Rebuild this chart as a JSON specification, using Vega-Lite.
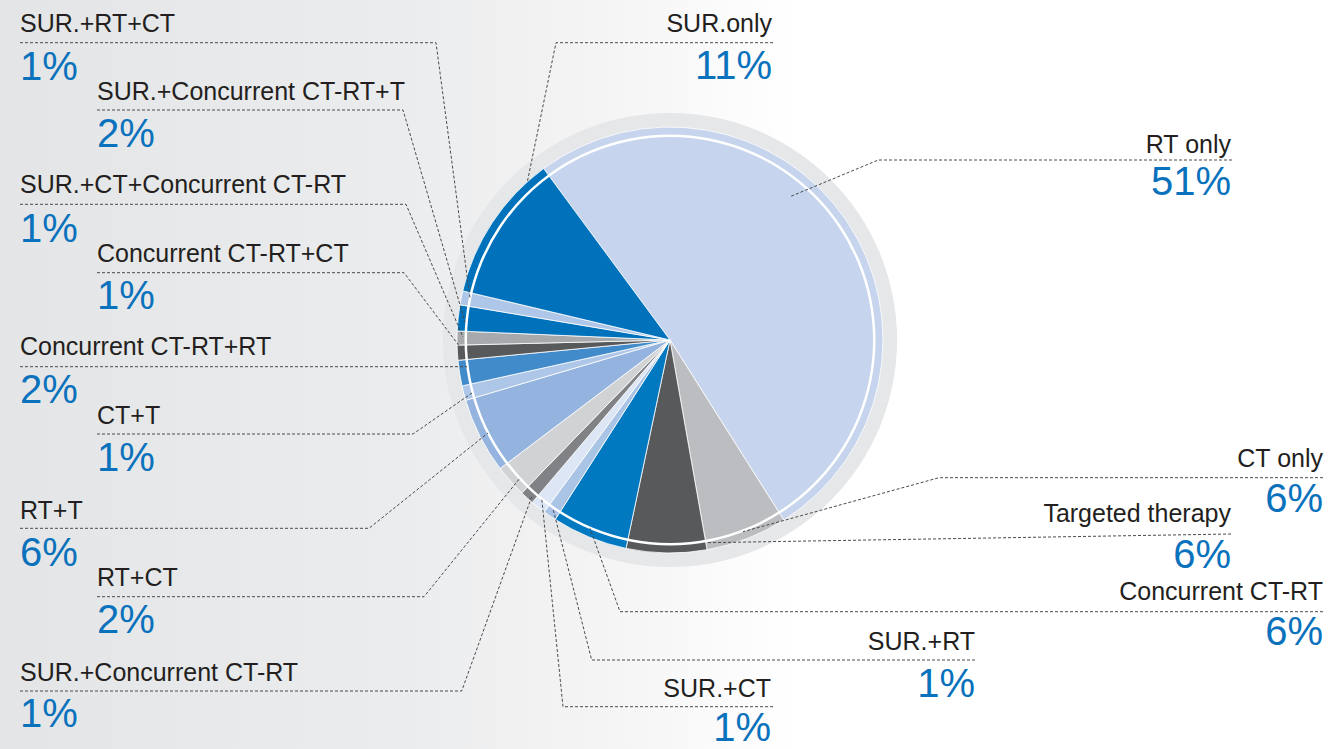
{
  "$schema": "https://vega.github.io/schema/vega-lite/v6.json",
  "width": 1330,
  "height": 749,
  "autosize": {"type": "none"},
  "padding": 0,
  "background": "#ffffff",
  "config": {"view": {"stroke": null}},
  "datasets": {
    "slices": [
      {"name": "RT only", "value": 51.2, "ord": 1, "pct": "51%", "side": "R", "tx": 561, "ny": 186.7, "py": 145},
      {"name": "CT only", "value": 6.2, "ord": 2, "pct": "6%", "side": "R", "tx": 653, "ny": -126.7, "py": -171.7},
      {"name": "Targeted therapy", "value": 6.1, "ord": 3, "pct": "6%", "side": "R", "tx": 561, "ny": -181.7, "py": -228.3},
      {"name": "Concurrent CT-RT", "value": 5.75, "ord": 4, "pct": "6%", "side": "R", "tx": 653, "ny": -260, "py": -305},
      {"name": "SUR.+RT", "value": 1.0, "ord": 5, "pct": "1%", "side": "R", "tx": 305, "ny": -310, "py": -356.7},
      {"name": "SUR.+CT", "value": 1.14, "ord": 6, "pct": "1%", "side": "R", "tx": 101, "ny": -356.7, "py": -400.5},
      {"name": "SUR.+Concurrent CT-RT", "value": 1.06, "ord": 7, "pct": "1%", "side": "L", "tx": -650, "ny": -341, "py": -387.3},
      {"name": "RT+CT", "value": 2.44, "ord": 8, "pct": "2%", "side": "L", "tx": -573, "ny": -245.7, "py": -293.3},
      {"name": "RT+T", "value": 5.75, "ord": 9, "pct": "6%", "side": "L", "tx": -650, "ny": -179, "py": -225.7},
      {"name": "CT+T", "value": 1.11, "ord": 10, "pct": "1%", "side": "L", "tx": -573, "ny": -84, "py": -131},
      {"name": "Concurrent CT-RT+RT", "value": 1.94, "ord": 11, "pct": "2%", "side": "L", "tx": -650, "ny": -15, "py": -63},
      {"name": "Concurrent CT-RT+CT", "value": 1.14, "ord": 12, "pct": "1%", "side": "L", "tx": -573, "ny": 78.3, "py": 30.7},
      {"name": "SUR.+CT+Concurrent CT-RT", "value": 1.06, "ord": 13, "pct": "1%", "side": "L", "tx": -650, "ny": 147, "py": 98.3},
      {"name": "SUR.+Concurrent CT-RT+T", "value": 1.97, "ord": 14, "pct": "2%", "side": "L", "tx": -573, "ny": 240, "py": 193.3},
      {"name": "SUR.+RT+CT", "value": 1.06, "ord": 15, "pct": "1%", "side": "L", "tx": -650, "ny": 308, "py": 260},
      {"name": "SUR.only", "value": 11.2, "ord": 16, "pct": "11%", "side": "R", "tx": 102, "ny": 308, "py": 261}
    ],
    "leaders": [
      {"name": "SUR.+RT+CT", "i": 0, "lx": -650, "ly": 297.3},
      {"name": "SUR.+RT+CT", "i": 1, "lx": -234, "ly": 297.3},
      {"name": "SUR.+RT+CT", "i": 2, "lx": -200, "ly": 42},
      {"name": "SUR.+Concurrent CT-RT+T", "i": 0, "lx": -573, "ly": 230},
      {"name": "SUR.+Concurrent CT-RT+T", "i": 1, "lx": -267, "ly": 230},
      {"name": "SUR.+Concurrent CT-RT+T", "i": 2, "lx": -205, "ly": 18},
      {"name": "SUR.+CT+Concurrent CT-RT", "i": 0, "lx": -650, "ly": 135.7},
      {"name": "SUR.+CT+Concurrent CT-RT", "i": 1, "lx": -264, "ly": 135.7},
      {"name": "SUR.+CT+Concurrent CT-RT", "i": 2, "lx": -207, "ly": 3},
      {"name": "Concurrent CT-RT+CT", "i": 0, "lx": -573, "ly": 67.3},
      {"name": "Concurrent CT-RT+CT", "i": 1, "lx": -266, "ly": 67.3},
      {"name": "Concurrent CT-RT+CT", "i": 2, "lx": -210, "ly": -7},
      {"name": "Concurrent CT-RT+RT", "i": 0, "lx": -650, "ly": -26.7},
      {"name": "Concurrent CT-RT+RT", "i": 1, "lx": -203, "ly": -26.7},
      {"name": "CT+T", "i": 0, "lx": -573, "ly": -94},
      {"name": "CT+T", "i": 1, "lx": -257, "ly": -94},
      {"name": "CT+T", "i": 2, "lx": -198, "ly": -53},
      {"name": "RT+T", "i": 0, "lx": -650, "ly": -188.3},
      {"name": "RT+T", "i": 1, "lx": -301, "ly": -188.3},
      {"name": "RT+T", "i": 2, "lx": -182, "ly": -93},
      {"name": "RT+CT", "i": 0, "lx": -573, "ly": -256.7},
      {"name": "RT+CT", "i": 1, "lx": -246, "ly": -256.7},
      {"name": "RT+CT", "i": 2, "lx": -150, "ly": -138},
      {"name": "SUR.+Concurrent CT-RT", "i": 0, "lx": -650, "ly": -351},
      {"name": "SUR.+Concurrent CT-RT", "i": 1, "lx": -208.3, "ly": -351},
      {"name": "SUR.+Concurrent CT-RT", "i": 2, "lx": -138.3, "ly": -156.7},
      {"name": "SUR.only", "i": 0, "lx": 103, "ly": 297.3},
      {"name": "SUR.only", "i": 1, "lx": -114, "ly": 297.3},
      {"name": "SUR.only", "i": 2, "lx": -142.7, "ly": 158},
      {"name": "RT only", "i": 0, "lx": 562, "ly": 180},
      {"name": "RT only", "i": 1, "lx": 208.3, "ly": 180},
      {"name": "RT only", "i": 2, "lx": 120, "ly": 143.3},
      {"name": "CT only", "i": 0, "lx": 653, "ly": -137.7},
      {"name": "CT only", "i": 1, "lx": 269, "ly": -137.7},
      {"name": "CT only", "i": 2, "lx": 73, "ly": -191.7},
      {"name": "Targeted therapy", "i": 0, "lx": 561, "ly": -194},
      {"name": "Targeted therapy", "i": 1, "lx": 36.7, "ly": -202.7},
      {"name": "Concurrent CT-RT", "i": 0, "lx": 653, "ly": -271.7},
      {"name": "Concurrent CT-RT", "i": 1, "lx": -50, "ly": -271.7},
      {"name": "Concurrent CT-RT", "i": 2, "lx": -80, "ly": -188.3},
      {"name": "SUR.+RT", "i": 0, "lx": 305, "ly": -320},
      {"name": "SUR.+RT", "i": 1, "lx": -78.3, "ly": -320},
      {"name": "SUR.+RT", "i": 2, "lx": -116.7, "ly": -170},
      {"name": "SUR.+CT", "i": 0, "lx": 103, "ly": -366.7},
      {"name": "SUR.+CT", "i": 1, "lx": -107, "ly": -366.7},
      {"name": "SUR.+CT", "i": 2, "lx": -128.3, "ly": -158.3}
    ]
  },
  "layer": [
    {
      "data": {"values": [{}]},
      "mark": {"type": "rect", "fill": {"gradient": "linear", "x1": 0, "y1": 0, "x2": 1, "y2": 0, "stops": [{"offset": 0, "color": "#e4e5e6"}, {"offset": 0.3, "color": "#ebeced"}, {"offset": 0.45, "color": "#f4f4f5"}, {"offset": 0.6, "color": "#ffffff"}, {"offset": 1, "color": "#ffffff"}]}},
      "encoding": {
        "x": {"datum": -670, "type": "quantitative", "scale": {"domain": [-670, 660], "nice": false, "zero": false}, "axis": null},
        "x2": {"datum": 660},
        "y": {"datum": -409, "type": "quantitative", "scale": {"domain": [-409, 340], "nice": false, "zero": false}, "axis": null},
        "y2": {"datum": 340}
      }
    },
    {
      "data": {"values": [{}]},
      "mark": {"type": "arc", "outerRadius": 227, "innerRadius": 0, "theta": 0, "theta2": 6.2832, "fill": "#e6e7e8"},
      "encoding": {
        "x": {"datum": 0, "type": "quantitative", "scale": {"domain": [-670, 660], "nice": false, "zero": false}, "axis": null},
        "y": {"datum": 0, "type": "quantitative", "scale": {"domain": [-409, 340], "nice": false, "zero": false}, "axis": null}
      }
    },
    {
      "data": {"name": "slices"},
      "mark": {"type": "arc", "outerRadius": 213, "stroke": "#ffffff", "strokeWidth": 0.8},
      "encoding": {
        "x": {"datum": 0, "type": "quantitative", "scale": {"domain": [-670, 660], "nice": false, "zero": false}, "axis": null},
        "y": {"datum": 0, "type": "quantitative", "scale": {"domain": [-409, 340], "nice": false, "zero": false}, "axis": null},
        "theta": {"field": "value", "type": "quantitative", "stack": true, "scale": {"range": [-0.6353, 5.6479]}},
        "order": {"field": "ord", "type": "quantitative"},
        "color": {
          "field": "name", "type": "nominal", "legend": null,
          "scale": {
            "domain": ["RT only", "CT only", "Targeted therapy", "Concurrent CT-RT", "SUR.+RT", "SUR.+CT", "SUR.+Concurrent CT-RT", "RT+CT", "RT+T", "CT+T", "Concurrent CT-RT+RT", "Concurrent CT-RT+CT", "SUR.+CT+Concurrent CT-RT", "SUR.+Concurrent CT-RT+T", "SUR.+RT+CT", "SUR.only"],
            "range": ["#c6d5ed", "#bcbdc0", "#58595b", "#0079c1", "#aac4e6", "#dde6f5", "#808285", "#d1d2d4", "#94b4df", "#aec6e8", "#428bca", "#58595b", "#a7a9ac", "#0071bb", "#aec6e8", "#0071bb"]
          }
        }
      }
    },
    {
      "data": {"values": [{}]},
      "mark": {"type": "arc", "outerRadius": 205.5, "innerRadius": 203, "theta": 0, "theta2": 6.2832, "fill": "#ffffff"},
      "encoding": {
        "x": {"datum": 0, "type": "quantitative", "scale": {"domain": [-670, 660], "nice": false, "zero": false}, "axis": null},
        "y": {"datum": 0, "type": "quantitative", "scale": {"domain": [-409, 340], "nice": false, "zero": false}, "axis": null}
      }
    },
    {
      "data": {"name": "leaders"},
      "mark": {"type": "line", "color": "#4a4a4c", "strokeWidth": 1, "strokeDash": [3, 2]},
      "encoding": {
        "x": {"field": "lx", "type": "quantitative", "scale": {"domain": [-670, 660], "nice": false, "zero": false}, "axis": null},
        "y": {"field": "ly", "type": "quantitative", "scale": {"domain": [-409, 340], "nice": false, "zero": false}, "axis": null},
        "detail": {"field": "name"},
        "order": {"field": "i", "type": "quantitative"}
      }
    },
    {
      "data": {"name": "slices"},
      "transform": [{"filter": "datum.side === 'L'"}],
      "mark": {"type": "text", "align": "left", "baseline": "alphabetic", "font": "Liberation Sans", "fontSize": 25, "color": "#231f20"},
      "encoding": {
        "x": {"field": "tx", "type": "quantitative", "scale": {"domain": [-670, 660], "nice": false, "zero": false}, "axis": null},
        "y": {"field": "ny", "type": "quantitative", "scale": {"domain": [-409, 340], "nice": false, "zero": false}, "axis": null},
        "text": {"field": "name"}
      }
    },
    {
      "data": {"name": "slices"},
      "transform": [{"filter": "datum.side === 'R'"}],
      "mark": {"type": "text", "align": "right", "baseline": "alphabetic", "font": "Liberation Sans", "fontSize": 25, "color": "#231f20"},
      "encoding": {
        "x": {"field": "tx", "type": "quantitative", "scale": {"domain": [-670, 660], "nice": false, "zero": false}, "axis": null},
        "y": {"field": "ny", "type": "quantitative", "scale": {"domain": [-409, 340], "nice": false, "zero": false}, "axis": null},
        "text": {"field": "name"}
      }
    },
    {
      "data": {"name": "slices"},
      "transform": [{"filter": "datum.side === 'L'"}],
      "mark": {"type": "text", "align": "left", "baseline": "alphabetic", "font": "Liberation Sans", "fontSize": 40, "color": "#0a72bc"},
      "encoding": {
        "x": {"field": "tx", "type": "quantitative", "scale": {"domain": [-670, 660], "nice": false, "zero": false}, "axis": null},
        "y": {"field": "py", "type": "quantitative", "scale": {"domain": [-409, 340], "nice": false, "zero": false}, "axis": null},
        "text": {"field": "pct"}
      }
    },
    {
      "data": {"name": "slices"},
      "transform": [{"filter": "datum.side === 'R'"}],
      "mark": {"type": "text", "align": "right", "baseline": "alphabetic", "font": "Liberation Sans", "fontSize": 40, "color": "#0a72bc"},
      "encoding": {
        "x": {"field": "tx", "type": "quantitative", "scale": {"domain": [-670, 660], "nice": false, "zero": false}, "axis": null},
        "y": {"field": "py", "type": "quantitative", "scale": {"domain": [-409, 340], "nice": false, "zero": false}, "axis": null},
        "text": {"field": "pct"}
      }
    }
  ]
}
